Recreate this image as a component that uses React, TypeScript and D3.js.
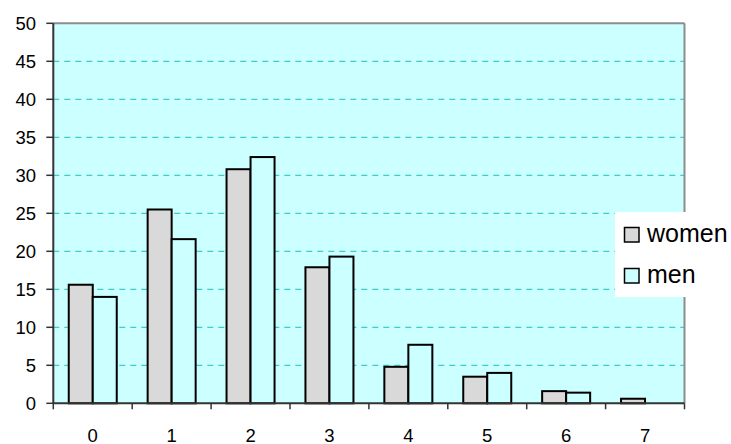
import React from "react";
import * as d3 from "d3";

const categories = ["0", "1", "2", "3", "4", "5", "6", "7"];
const women = [15.6, 25.5, 30.8, 17.9, 4.8, 3.5, 1.6, 0.6];
const men = [14.0, 21.6, 32.4, 19.3, 7.7, 4.0, 1.4, 0];
const yTicks = [0, 5, 10, 15, 20, 25, 30, 35, 40, 45, 50];
const seriesNames = ["women", "men"];

const W = 731;
const H = 444;
const left = 53.3;
const right = 684.5;
const top = 23.3;
const bottom = 403.3;
const barW = 24;
const font = "'Liberation Sans', Arial, sans-serif";
const colors = ["#d9d9d9", "#ccffff"];

export default function App() {
  const x = d3.scaleBand<string>().domain(categories).range([left, right]).padding(0);
  const y = d3.scaleLinear().domain([0, 50]).range([bottom, top]);
  const series = [women, men];
  const bounds = [left, ...categories.map((c) => (x(c) as number) + x.bandwidth())];

  return (
    <svg width={W} height={H} style={{ position: "absolute", left: 0, top: 0 }} fontFamily={font}>
      <rect x={0} y={0} width={W} height={H} fill="#ffffff" />
      <rect x={left} y={top} width={right - left} height={bottom - top} fill="#ccffff" />
      {yTicks.filter((t) => t > 0 && t < 50).map((t) => (
        <line key={"g" + t} x1={left} x2={right} y1={y(t)} y2={y(t)} stroke="#40cccc" strokeWidth={1.3} strokeDasharray="6,5" />
      ))}
      <line x1={left} x2={right} y1={top} y2={top} stroke="#8c8c8c" strokeWidth={2} />
      <line x1={right} x2={right} y1={top} y2={bottom} stroke="#8c8c8c" strokeWidth={2} />
      {categories.map((c, i) => {
        const cx = (x(c) as number) + x.bandwidth() / 2;
        return series.map((s, j) => {
          const v = s[i];
          if (v <= 0) return null;
          return (
            <rect
              key={c + "-" + j}
              x={cx - barW + j * barW}
              y={y(v)}
              width={barW}
              height={bottom - y(v)}
              fill={colors[j]}
              stroke="#000"
              strokeWidth={2}
            />
          );
        });
      })}
      <line x1={left} x2={left} y1={top} y2={bottom} stroke="#333" strokeWidth={2} />
      <line x1={left} x2={right} y1={bottom} y2={bottom} stroke="#333" strokeWidth={2} />
      {yTicks.map((t) => (
        <g key={"y" + t}>
          <line x1={left - 7} x2={left} y1={y(t)} y2={y(t)} stroke="#333" strokeWidth={1.5} />
          <text x={36} y={y(t)} dy="0.35em" textAnchor="end" fontSize={18.5} fill="#000">
            {t}
          </text>
        </g>
      ))}
      {bounds.map((b, i) => (
        <line key={"xt" + i} x1={b} x2={b} y1={bottom} y2={bottom + 6} stroke="#333" strokeWidth={1.5} />
      ))}
      {categories.map((c) => (
        <text key={"xl" + c} x={(x(c) as number) + x.bandwidth() / 2} y={441.5} textAnchor="middle" fontSize={18.5} fill="#000">
          {c}
        </text>
      ))}
      <rect x={615} y={212} width={W - 615} height={85} fill="#ffffff" />
      {seriesNames.map((n, j) => (
        <g key={n}>
          <rect x={624.5} y={227.5 + j * 41} width={14.5} height={14.5} fill={colors[j]} stroke="#000" strokeWidth={1.5} />
          <text x={647} y={241.7 + j * 41} fontSize={25} fill="#000">
            {n}
          </text>
        </g>
      ))}
    </svg>
  );
}
